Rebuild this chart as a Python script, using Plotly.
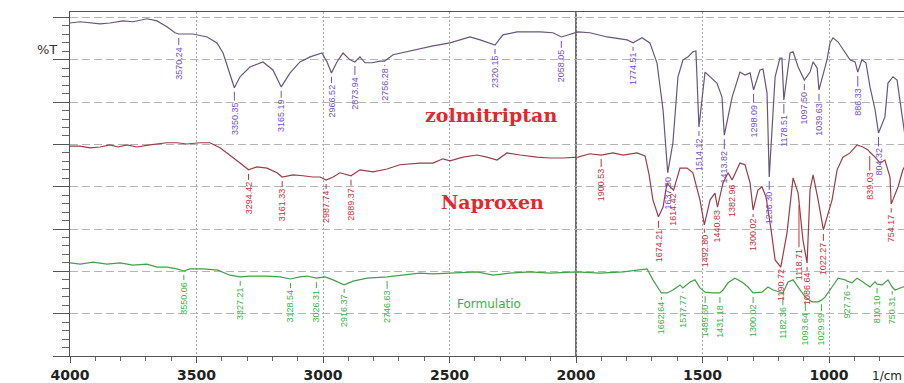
import numpy as np
import plotly.graph_objects as go

# ---------------- data (wavenumber in 1/cm, transmittance in chart units) ----------------
zol_wn = [4000, 3960, 3881, 3842, 3791, 3751, 3696, 3656, 3617, 3585, 3570.24, 3514, 3458, 3419, 3395,
          3368, 3350.35, 3328, 3289, 3237, 3198, 3165.19, 3130, 3091, 3051, 3004, 2984, 2966.52, 2945,
          2921, 2893, 2873.94, 2854, 2834, 2806, 2775, 2756.28, 2723, 2644, 2565, 2498, 2459, 2419, 2379,
          2320.15, 2289, 2233, 2142, 2091, 2058.05, 1992, 1945, 1877, 1798, 1774.51, 1739, 1708, 1680,
          1656, 1637.50, 1617, 1597, 1577, 1557, 1538, 1526, 1518, 1514.12, 1490, 1470, 1443, 1423,
          1413.82, 1383, 1364, 1352, 1332, 1312, 1298.09, 1273, 1261, 1245, 1236.30, 1213, 1194, 1186,
          1178.51, 1154, 1142, 1122, 1097.50, 1075, 1063, 1047, 1039.63, 1008, 996, 984, 964, 937, 917,
          897, 886.33, 870, 854, 838, 818, 804.32, 779, 767, 747, 731, 719, 704, 690]
zol_t = [78.7, 79.0, 78.5, 78.7, 79.2, 79.0, 79.7, 79.2, 77.8, 76.4, 76.1, 76.1, 75.4, 74.0, 71.6,
         66.9, 63.4, 66.0, 68.3, 69.5, 67.6, 63.6, 66.9, 69.5, 70.7, 71.6, 69.5, 66.9, 69.5,
         71.6, 70.0, 69.5, 70.7, 69.3, 69.3, 69.7, 69.7, 71.2, 72.3, 73.3, 74.0, 74.7, 75.4, 74.7,
         73.5, 75.9, 76.6, 76.6, 76.4, 75.4, 76.6, 76.4, 75.4, 74.7, 74.0, 75.2, 74.0, 69.3,
         58.2, 43.3, 50.4, 66.0, 70.0, 70.7, 71.9, 72.1, 60.5, 54.1, 67.1, 66.0, 64.5, 61.2,
         52.2, 61.2, 64.5, 67.1, 66.4, 66.9, 62.9, 67.6, 67.8, 62.2, 42.3, 66.0, 70.4, 70.4,
         60.5, 71.6, 71.9, 68.3, 65.2, 67.1, 69.5, 68.1, 62.9, 70.0, 74.0, 75.2, 74.2, 71.6, 70.0,
         69.5, 67.1, 70.0, 69.3, 63.6, 58.2, 52.7, 56.5, 64.5, 66.0, 65.2, 59.8, 54.1, 48.0]

nap_wn = [4000, 3960, 3921, 3881, 3842, 3810, 3775, 3735, 3684, 3617, 3577, 3538, 3486, 3447, 3407,
          3368, 3328, 3294.42, 3261, 3221, 3182, 3161.33, 3119, 3079, 3040, 3012, 2987.74, 2960, 2933,
          2889.37, 2870, 2854, 2802, 2747, 2696, 2617, 2565, 2526, 2498, 2447, 2391, 2352, 2312, 2273,
          2221, 2154, 2103, 2051, 1992, 1945, 1900.53, 1854, 1814, 1759, 1727, 1711, 1696, 1674.21,
          1656, 1640, 1628, 1614.42, 1589, 1561, 1538, 1510, 1492.80, 1470, 1451, 1440.83, 1419, 1399,
          1382.96, 1352, 1332, 1312, 1300.02, 1281, 1265, 1249, 1229, 1213, 1190.72, 1166, 1142, 1122,
          1103, 1086.64, 1075, 1063, 1043, 1022.27, 988, 968, 945, 917, 889, 866, 846, 839.03, 818,
          798, 779, 759, 754.17, 727, 708, 690]
nap_t = [49.6, 49.6, 49.2, 49.4, 49.9, 49.4, 49.9, 49.4, 49.9, 50.4, 50.4, 50.1, 50.4, 50.4, 49.2,
         47.5, 45.6, 44.0, 44.7, 44.4, 43.3, 42.3, 42.8, 42.6, 42.3, 42.3, 41.6, 42.3, 43.3,
         42.6, 43.3, 44.0, 43.5, 44.2, 45.2, 45.6, 45.6, 46.6, 46.1, 47.0, 47.5, 47.0, 46.3, 48.0,
         47.5, 47.0, 46.8, 46.8, 47.0, 47.8, 47.5, 48.0, 47.5, 48.0, 47.3, 42.8, 36.9, 32.9,
         35.2, 40.9, 40.0, 39.2, 44.4, 44.4, 43.3, 36.9, 31.0, 36.9, 38.5, 35.2, 40.9, 43.3,
         41.6, 45.6, 45.2, 40.9, 34.5, 39.2, 40.0, 37.6, 29.8, 22.7, 21.0, 29.1, 42.1, 38.5,
         27.4, 22.0, 39.2, 42.8, 36.9, 29.8, 36.9, 44.0, 47.0, 48.0, 49.9, 49.4, 48.7, 48.2, 47.0,
         45.6, 46.3, 42.3, 35.9, 40.0, 44.0, 46.0]

form_wn = [4000, 3960, 3909, 3854, 3802, 3751, 3696, 3656, 3617, 3577, 3550.06, 3526, 3474, 3415, 3368,
           3327.21, 3289, 3221, 3170, 3128.54, 3091, 3063, 3026.31, 2992, 2960, 2916.37, 2881, 2826,
           2746.63, 2696, 2617, 2565, 2498, 2447, 2391, 2328, 2261, 2182, 2103, 1996, 1905, 1814, 1747,
           1719, 1696, 1662.64, 1640, 1617, 1589, 1577.77, 1549, 1530, 1510, 1489.60, 1462, 1431.18,
           1419, 1399, 1372, 1344, 1320, 1300.02, 1265, 1241, 1221, 1182.36, 1162, 1142, 1122, 1093.64,
           1067, 1043, 1029.99, 1016, 988, 964, 937, 927.76, 909, 889, 866, 838, 818, 810.10, 790, 767,
           750.31, 739, 708, 690]
form_t = [22.0, 21.7, 22.2, 21.7, 22.0, 21.5, 21.7, 21.0, 21.0, 20.6, 20.1, 20.6, 20.6, 20.3, 19.1,
          18.7, 18.9, 18.9, 18.7, 18.2, 18.7, 18.9, 18.4, 18.7, 18.0, 16.8, 17.7, 18.4,
          18.7, 19.1, 19.6, 19.4, 19.6, 19.9, 19.9, 19.1, 19.6, 19.9, 19.6, 19.9, 19.6, 19.9, 20.3,
          20.6, 18.0, 14.9, 14.9, 15.6, 16.8, 16.1, 17.5, 18.0, 16.1, 15.1, 14.9, 14.9,
          15.6, 17.3, 18.4, 17.5, 16.3, 14.9, 15.1, 16.3, 15.6, 14.9, 17.5, 18.0, 16.3, 13.9,
          12.8, 12.8, 13.2, 13.9, 16.3, 18.4, 18.0, 17.7, 17.3, 18.4, 17.5, 16.3, 17.5, 17.0, 16.8, 18.0,
          16.3, 15.6, 16.3, 16.5]

# peak labels (text) and their label offsets in pixels below the peak
zol_peaks = ["3570.24", "3350.35", "3165.19", "2966.52", "2873.94", "2756.28", "2320.15", "2058.05",
             "1774.51", "1637.50", "1514.12", "1413.82", "1298.09", "1236.30", "1178.51", "1097.50",
             "1039.63", "886.33", "804.32"]
zol_offsets = [29, 31, 29, 28, 31, 23, 27, 29, 26, 20, 27, 32, 31, 31, 31, 28, 29, 30, 29]

nap_peaks = ["3294.42", "3161.33", "2987.74", "2889.37", "1900.53", "1674.21", "1614.42", "1492.80",
             "1440.83", "1382.96", "1300.02", "1190.72", "1118.71", "1086.64", "1022.27", "839.03",
             "754.17"]
nap_offsets = [28, 28, 27, 28, 30, 29, 19, 26, 19, 21, 25, 18, 63, 26, 29, 34, 24]

form_peaks = ["3550.06", "3327.21", "3128.54", "3026.31", "2916.37", "2746.63", "1662.64", "1577.77",
              "1489.60", "1431.18", "1300.02", "1182.36", "1093.64", "1029.99", "927.76", "810.10",
              "750.31"]
form_offsets = [27, 27, 27, 28, 26, 30, 25, 23, 29, 28, 28, 30, 32, 29, 23, 25, 23]

x_tick_vals = [4000, 3500, 3000, 2500, 2000, 1500, 1000]
x_tick_text = ["4000", "3500", "3000", "2500", "2000", "1500", "1000"]
divider_wn = 2000

# ---------------- styling ----------------
ZOL_LINE, ZOL_LABEL = "#67567a", "#7250c8"
NAP_LINE, NAP_LABEL = "#9c3c4a", "#c8303c"
FORM_LINE, FORM_LABEL = "#42a048", "#3cb044"
NAME_RED = "#e2282c"
LABEL_FONT = "Liberation Sans Narrow, Arial Narrow, Liberation Sans, sans-serif"

fig = go.Figure()
series = [
    ("zolmitriptan", zol_wn, zol_t, ZOL_LINE, ZOL_LABEL, zol_peaks, zol_offsets),
    ("Naproxen", nap_wn, nap_t, NAP_LINE, NAP_LABEL, nap_peaks, nap_offsets),
    ("Formulatio", form_wn, form_t, FORM_LINE, FORM_LABEL, form_peaks, form_offsets),
]

annotations = []
for name, wn, t, lc, tc, peaks, offs in series:
    fig.add_trace(go.Scatter(x=wn, y=t, mode="lines", name=name,
                             line=dict(color=lc, width=1.2), showlegend=False,
                             hoverinfo="x+y"))
    xp = np.array(wn[::-1], dtype=float)
    fp = np.array(t[::-1], dtype=float)
    for lab, off in zip(peaks, offs):
        pw = float(lab)
        pt = float(np.interp(pw, xp, fp))
        annotations.append(dict(
            x=pw, y=pt, xref="x", yref="y", text=lab, textangle=-90,
            showarrow=True, arrowhead=0, arrowwidth=1, arrowcolor=tc,
            ax=0, ay=off, standoff=4,
            font=dict(family=LABEL_FONT, size=9, color=tc)))

# series names and axis captions
annotations += [
    dict(x=2336, y=57.0, xref="x", yref="y", text="zolmitriptan", showarrow=False,
         font=dict(family="DejaVu Serif", size=19, color=NAME_RED, weight="bold")),
    dict(x=2332, y=36.4, xref="x", yref="y", text="Naproxen", showarrow=False,
         font=dict(family="DejaVu Serif", size=19, color=NAME_RED, weight="bold")),
    dict(x=2344, y=12.3, xref="x", yref="y", text="Formulatio", showarrow=False,
         font=dict(family="DejaVu Sans", size=12, color=FORM_LABEL)),
    dict(x=-0.042, y=0.919, xref="paper", yref="paper", text="%T", showarrow=False,
         font=dict(family="DejaVu Sans", size=13, color="#333333")),
    dict(x=1.0, y=-0.058, xref="paper", yref="paper", text="1/cm", showarrow=False,
         xanchor="right", yanchor="middle",
         font=dict(family="DejaVu Sans", size=12, color="#222222")),
]

fig.add_shape(type="line", x0=divider_wn, x1=divider_wn, y0=0, y1=1, xref="x", yref="paper",
              line=dict(color="#222222", width=1.3), layer="below")

fig.update_layout(
    width=904, height=383,
    margin=dict(l=70, r=0, t=12, b=27),
    paper_bgcolor="white", plot_bgcolor="white",
    annotations=annotations,
    xaxis=dict(range=[4000, 703.6], tickvals=x_tick_vals, ticktext=x_tick_text,
               showgrid=True, gridcolor="#a8a8a8", griddash="2px,2px", gridwidth=1,
               showline=True, linecolor="#555555", linewidth=1, mirror=True,
               ticks="outside", ticklen=6, tickcolor="#555555",
               tickfont=dict(family="DejaVu Sans", size=14, color="#222222", weight="bold"),
               minor=dict(dtick=100, ticks="outside", ticklen=4, tickcolor="#666666", showgrid=False),
               zeroline=False),
    yaxis=dict(range=[0, 81.3], dtick=10, tick0=0, showticklabels=False,
               showgrid=True, gridcolor="#b4b4b4", griddash="8px,4px", gridwidth=1,
               showline=True, linecolor="#555555", linewidth=1,
               ticks="outside", ticklen=16, tickcolor="#555555",
               minor=dict(dtick=2, ticks="outside", ticklen=7, tickcolor="#666666", showgrid=False),
               zeroline=False),
)

fig.write_html("out.html", config={"displayModeBar": False},
               post_script="document.body.style.margin='0';document.body.style.overflow='hidden';")
